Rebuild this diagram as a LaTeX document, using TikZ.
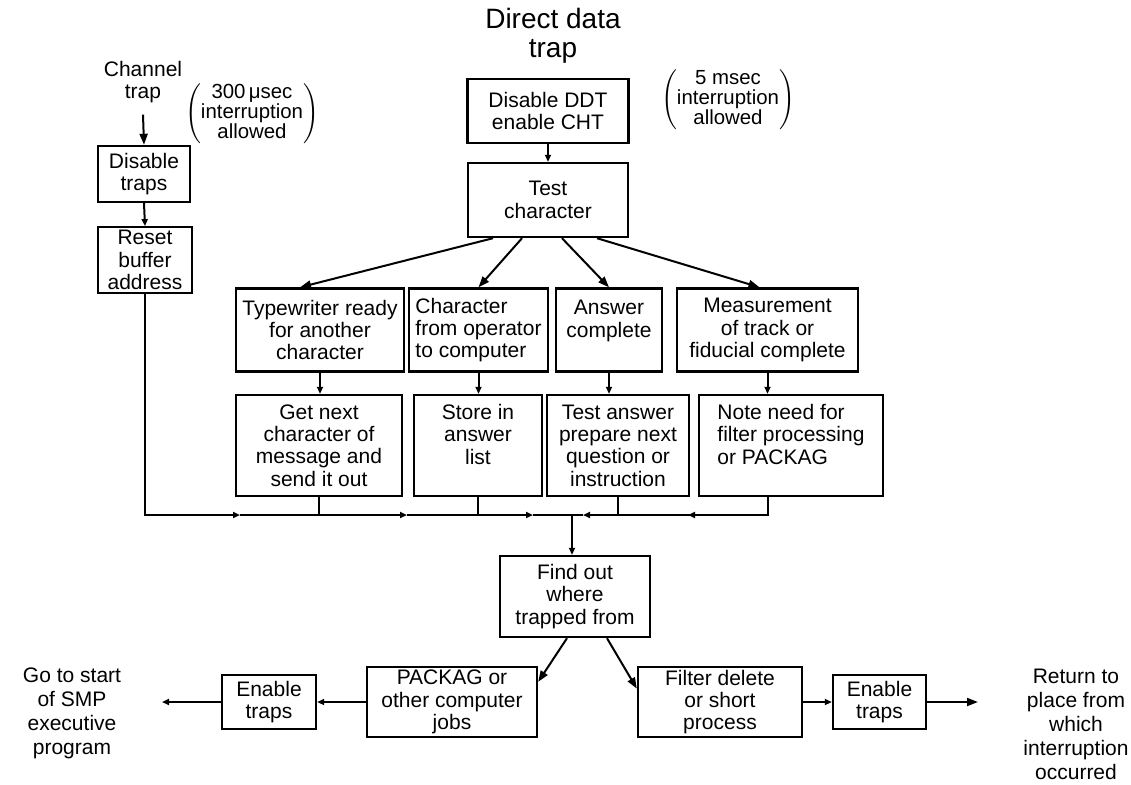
\documentclass[tikz,border=0pt]{standalone}
\usepackage{fontspec}
\setmainfont{Liberation Sans}
\usetikzlibrary{calc,arrows.meta}

\begin{document}
\begin{tikzpicture}[
    x=0.5pt, y=-0.5pt, >={Triangle[length=5.5pt,width=4pt]},
    line width=1pt,
    font=\fontsize{10.5}{11.2}\selectfont,
    box/.style={
      draw=black,
      line width=1.2pt,
      inner sep=1.5pt,
      align=center
    },
    small/.style={-{Triangle[length=3.5pt,width=3pt]}},
    note/.style={
      font=\fontsize{10.2}{9}\selectfont,
      align=center
    },
    outtext/.style={
      font=\fontsize{10.5}{12}\selectfont,
      align=center
    }
  ]
  \useasboundingbox (0,0) rectangle (1131,784);

  % left branch: channel trap
  \node[align=center] (chan) at (143,82) {Channel\\trap};
  \node[note] (n300) at (252,114) {$\left(\begin{tabular}{@{}c@{}}300\,μsec\\interruption\\allowed\end{tabular}\right)$};
  \node[box, minimum width=46pt, minimum height=28pt] (dis) at (144,174) {Disable\\traps};
  \node[box, minimum width=47pt, minimum height=32pt] (reset) at (145,260) {Reset\\buffer\\address};

  % direct data trap
  \node[align=center, font=\fontsize{14}{14.5}\selectfont] (title) at (553,36) {Direct data\\trap};
  \node[note] (n5) at (728,100) {$\left(\begin{tabular}{@{}c@{}}5 msec\\interruption\\allowed\end{tabular}\right)$};
  \node[box, minimum width=80.5pt, minimum height=32pt] (ddt) at (548,111) {Disable DDT\\enable CHT};
  \node[box, minimum width=80pt, minimum height=37pt] (test) at (548,200) {Test\\character};

  % which character
  \node[box, minimum width=84pt, minimum height=41.5pt] (typ) at (320,330) {Typewriter ready\\for another\\character};
  \node[box, minimum width=69.5pt, minimum height=41.5pt, align=left] (chr) at (478.5,330) {Character\\from operator\\to computer};
  \node[box, minimum width=53pt, minimum height=41.5pt] (ans) at (609,330) {Answer\\complete\\~};
  \node[box, minimum width=90.5pt, minimum height=41.5pt] (meas) at (767.5,330) {Measurement\\of track or\\fiducial complete};

  \node[box, minimum width=83pt, minimum height=50.5pt] (getnext) at (319,445.5) {Get next\\character of\\message and\\send it out};
  \node[box, minimum width=64pt, minimum height=50.5pt] (store) at (478,445.5) {Store in\\answer\\list\\~};
  \node[box, minimum width=71pt, minimum height=50.5pt] (testans) at (618,445.5) {Test answer\\prepare next\\question or\\instruction};
  \node[box, minimum width=92pt, minimum height=50.5pt, align=left] (note) at (791,445.5) {Note need for\\filter processing\\or PACKAG\\~};

  % after the trap
  \node[box, minimum width=75pt, minimum height=40.5pt] (find) at (575,596.5) {Find out\\where\\trapped from};
  \node[box, minimum width=85pt, minimum height=35pt] (pack) at (452,702) {PACKAG or\\other computer\\jobs};
  \node[box, minimum width=82pt, minimum height=35pt] (filt) at (720,702) {Filter delete\\or short\\process};
  \node[box, minimum width=47pt, minimum height=27pt] (en1) at (269,702) {Enable\\traps};
  \node[box, minimum width=46.5pt, minimum height=27pt] (en2) at (879.5,702) {Enable\\traps};

  \node[outtext] (gostart) at (72,713) {Go to start\\of SMP\\executive\\program};
  \node[outtext] (ret) at (1076,724) {Return to\\place from\\which\\interruption\\occurred};

  \coordinate (bus) at (572,515);
  \coordinate (b1) at (240,515);
  \coordinate (b2) at (407,515);
  \coordinate (b3) at (533,515);
  \coordinate (b4) at (583,515);
  \coordinate (b5) at (688,515);
  \coordinate (goout) at (162,702);
  \coordinate (retout) at (978,702);

  \draw[->] ([yshift=-2pt]chan.south) -- (dis.north);
  \draw[small] (dis.south) -- (reset.north);
  \draw[small] (ddt.south) -- (test.north);

  \draw[->] ($(test.south)+(-55,0)$) -- ($(typ.north)+(-20,0)$);
  \draw[->] ($(test.south)+(-26,0)$) -- (chr.north);
  \draw[->] ($(test.south)+(14,0)$) -- (ans.north);
  \draw[->] ($(test.south)+(49,0)$) -- ($(meas.north)+(-8,0)$);

  \draw[small] (typ.south) -- (typ.south |- getnext.north);
  \draw[small] (chr.south) -- (chr.south |- store.north);
  \draw[small] (ans.south) -- (ans.south |- testans.north);
  \draw[small] (meas.south) -- (meas.south |- note.north);

  % collecting line
  \draw[small] (reset.south) |- (b1);
  \draw[small] (b1) -- (b2);
  \draw[small] (b2) -- (b3);
  \draw (b3) -- (bus);
  \draw (meas.south |- note.south) |- (b5);
  \draw[small] (meas.south |- bus) -- (b5);
  \draw[small] (b5) -- (b4);
  \draw (b4) -- (bus);
  \draw (getnext.south) -- (getnext.south |- bus);
  \draw (store.south) -- (store.south |- bus);
  \draw (testans.south) -- (testans.south |- bus);
  \draw[small] (bus) -- (bus |- find.north);

  \draw[->] ($(find.south)+(-8,0)$) -- ($(pack.north east)+(0,16)$);
  \draw[->] ($(find.south)+(32,0)$) -- ($(filt.north west)+(0,23)$);
  \draw[small] (pack.west) -- (en1.east);
  \draw[small] (en1.west) -- (goout);
  \draw[small] (filt.east) -- (en2.west);
  \draw[->] (en2.east) -- (retout);
\end{tikzpicture}
\end{document}
